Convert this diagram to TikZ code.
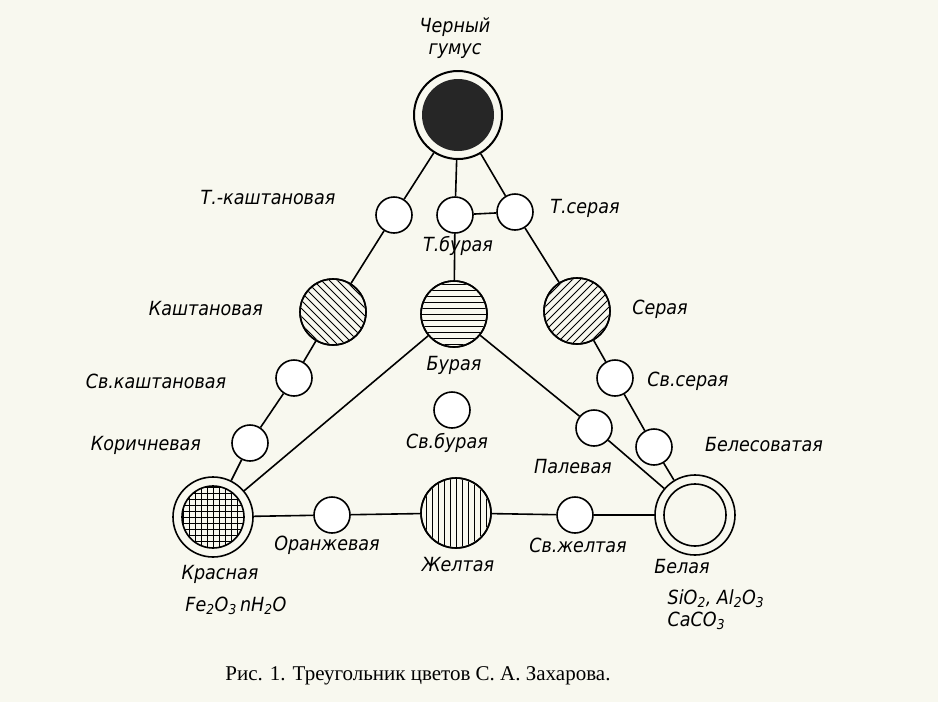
\documentclass[tikz,border=0pt]{standalone}
\usepackage{fontspec}
\setmainfont{Liberation Serif}
\newfontfamily\lab{DejaVu Sans Condensed}
\begin{document}
\begin{tikzpicture}[x=1pt,y=-1pt,line width=1.6pt,
  sm/.style={circle,draw,fill=white,minimum size=36pt,inner sep=0},
  big/.style={circle,draw,minimum size=66pt,inner sep=0},
  lb/.style={font=\lab\itshape\fontsize{19.5}{22}\selectfont,inner sep=1pt}]
\fill[white!96!yellow!97!black] (0,0) rectangle (938,702);
\useasboundingbox (0,0) rectangle (938,702);
% nodes
\node[circle,draw,line width=2pt,minimum size=88pt,inner sep=0] (bh) at (458,115) {};
\fill[black!85] (458,115) circle (36);
\node[sm] (tk) at (394,215) {};
\node[sm] (tb) at (455,215) {};
\node[sm] (ts) at (515,212) {};
\node[big] (ka) at (333,312) {};
\node[big] (bu) at (454,314) {};
\node[big] (se) at (577,311) {};
\node[sm] (sk) at (294,378) {};
\node[sm] (ko) at (250,443) {};
\node[sm] (sb) at (452,410) {};
\node[sm] (ss) at (615,378) {};
\node[sm] (pa) at (594,428) {};
\node[sm] (be) at (654,447) {};
\node[circle,draw,minimum size=80pt,inner sep=0] (kr) at (213,517) {};
\node[big,minimum size=70pt] (ze) at (456,513) {};
\node[circle,draw,minimum size=80pt,inner sep=0] (bl) at (695,515) {};
\node[sm] (or) at (332,515) {};
\node[sm] (sz) at (575,515) {};
% connectors
\draw (bh) -- (tk) -- (ka) -- (sk) -- (ko) -- (kr);
\draw (bh) -- (ts) -- (se) -- (ss) -- (be) -- (bl);
\draw (bh) -- (tb) -- (bu);
\draw (tb) -- (ts);
\draw (bu) -- (kr);
\draw (bu) -- (pa) -- (bl);
\draw (kr) -- (or) -- (ze) -- (sz) -- (bl);
% hatches
\begin{scope}[line width=1pt]
\clip (333,312) circle (32);
\foreach \i in {-60,-52,...,60} \draw (333+\i-40,312-40) -- +(80,80);
\end{scope}
\begin{scope}[line width=1pt]
\clip (577,311) circle (32);
\foreach \i in {-60,-52,...,60} \draw (577+\i-40,311+40) -- +(80,-80);
\end{scope}
\begin{scope}[line width=1pt]
\clip (454,314) circle (32);
\foreach \i in {-30,-24,...,30} \draw (414,314+\i) -- +(80,0);
\end{scope}
\begin{scope}[line width=1pt]
\clip (456,513) circle (34);
\foreach \i in {-30,-24,...,30} \draw (456+\i,470) -- +(0,90);
\end{scope}
\begin{scope}[line width=0.9pt]
\clip (213,517) circle (31);
\foreach \i in {-30,-24,...,30} {\draw (213+\i,480) -- +(0,80); \draw (170,517+\i) -- +(90,0);}
\end{scope}
\draw (213,517) circle (31);
\draw (695,515) circle (31);
\draw (333,312) circle (33); \draw (454,314) circle (33); \draw (577,311) circle (33); \draw (456,513) circle (35);
% labels
\node[lb,align=center] (lbh) at (455,38) {Черный\\гумус};
\node[lb] (ltk) at (268,198) {Т.-каштановая};
\node[lb] (lts) at (585,208) {Т.серая};
\node[lb] (ltb) at (458,246) {Т.бурая};
\node[lb] (lka) at (206,309) {Каштановая};
\node[lb] (lse) at (660,309) {Серая};
\node[lb] (lbu) at (454,365) {Бурая};
\node[lb] (lsk) at (156,381) {Св.каштановая};
\node[lb] (lss) at (688,381) {Св.серая};
\node[lb] (lko) at (146,445) {Коричневая};
\node[lb] (lsb) at (447,443) {Св.бурая};
\node[lb] (lpa) at (573,467) {Палевая};
\node[lb] (lbe) at (764,445) {Белесоватая};
\node[lb] (lor) at (327,545) {Оранжевая};
\node[lb] (lze) at (458,565) {Желтая};
\node[lb] (lsz) at (578,545) {Св.желтая};
\node[lb] (lkr) at (220,574) {Красная};
\node[lb] (lfe) at (236,606) {Fe\textsubscript{2}O\textsubscript{3}\,nH\textsubscript{2}O};
\node[lb] (lbl) at (682,567) {Белая};
\node[lb,align=left] (lsi) at (716,610) {SiO\textsubscript{2}, Al\textsubscript{2}O\textsubscript{3}\\CaCO\textsubscript{3}};
\node[font=\fontsize{21}{23}\selectfont] (cap) at (418,676) {Рис. 1. Треугольник цветов С. А. Захарова.};
\end{tikzpicture}
\end{document}
